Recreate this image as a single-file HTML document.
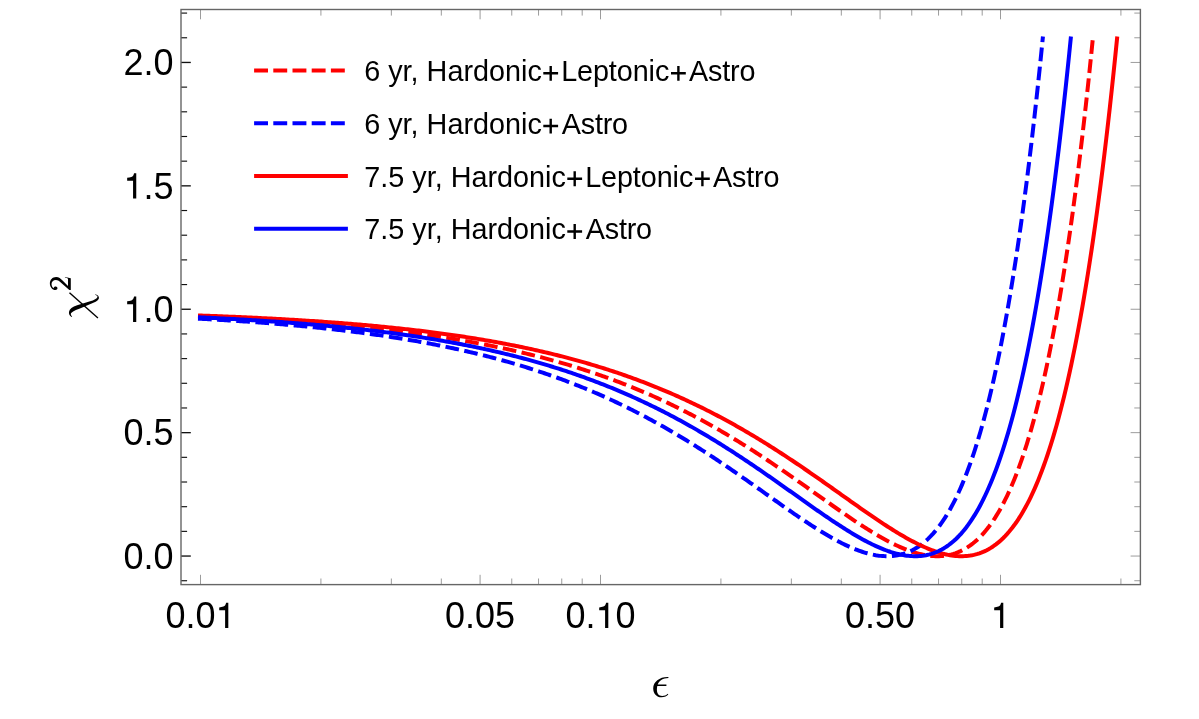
<!DOCTYPE html><html><head><meta charset="utf-8"><title>chi2</title>
<style>html,body{margin:0;padding:0;background:#fff;}body{width:1199px;height:719px;overflow:hidden;}svg{display:block;position:absolute;left:0;top:0;will-change:transform;}text{font-family:"Liberation Sans",sans-serif;fill:#000;}</style></head><body>
<svg width="1199" height="719" viewBox="0 0 1199 719">
<rect x="0" y="0" width="1199" height="719" fill="#fff"/>
<path d="M198.00,316.35 L199.79,316.42 L201.58,316.49 L203.37,316.57 L205.16,316.64 L206.95,316.72 L208.74,316.79 L210.53,316.87 L212.32,316.94 L214.11,317.02 L215.90,317.10 L217.69,317.18 L219.48,317.26 L221.27,317.34 L223.06,317.42 L224.85,317.50 L226.64,317.59 L228.43,317.67 L230.22,317.76 L232.01,317.84 L233.80,317.93 L235.59,318.02 L237.38,318.10 L239.17,318.19 L240.96,318.28 L242.75,318.37 L244.54,318.47 L246.33,318.56 L248.12,318.65 L249.91,318.75 L251.70,318.84 L253.49,318.94 L255.28,319.04 L257.07,319.14 L258.86,319.24 L260.65,319.34 L262.44,319.44 L264.23,319.54 L266.02,319.65 L267.81,319.75 L269.60,319.86 L271.39,319.97 L273.18,320.07 L274.97,320.18 L276.76,320.29 L278.55,320.41 L280.34,320.52 L282.13,320.63 L283.92,320.75 L285.71,320.86 L287.50,320.98 L289.29,321.10 L291.08,321.22 L292.87,321.34 L294.66,321.46 L296.45,321.58 L298.25,321.71 L300.04,321.84 L301.83,321.96 L303.62,322.09 L305.41,322.22 L307.20,322.35 L308.99,322.48 L310.78,322.62 L312.57,322.75 L314.36,322.89 L316.15,323.03 L317.94,323.17 L319.73,323.31 L321.52,323.45 L323.31,323.59 L325.10,323.74 L326.89,323.88 L328.68,324.03 L330.47,324.18 L332.26,324.33 L334.05,324.48 L335.84,324.64 L337.63,324.79 L339.42,324.95 L341.21,325.11 L343.00,325.27 L344.79,325.43 L346.58,325.59 L348.37,325.76 L350.16,325.92 L351.95,326.09 L353.74,326.26 L355.53,326.43 L357.32,326.61 L359.11,326.78 L360.90,326.96 L362.69,327.14 L364.48,327.32 L366.27,327.50 L368.06,327.68 L369.85,327.87 L371.64,328.05 L373.43,328.24 L375.22,328.44 L377.01,328.63 L378.80,328.82 L380.59,329.02 L382.38,329.22 L384.17,329.42 L385.96,329.62 L387.75,329.83 L389.54,330.04 L391.33,330.24 L393.12,330.46 L394.91,330.67 L396.70,330.88 L398.49,331.10 L400.28,331.32 L402.07,331.54 L403.86,331.77 L405.65,331.99 L407.44,332.22 L409.23,332.45 L411.02,332.68 L412.81,332.92 L414.60,333.16 L416.39,333.40 L418.18,333.64 L419.97,333.88 L421.76,334.13 L423.55,334.38 L425.34,334.63 L427.13,334.89 L428.92,335.14 L430.71,335.40 L432.50,335.66 L434.29,335.93 L436.08,336.19 L437.87,336.46 L439.66,336.74 L441.45,337.01 L443.24,337.29 L445.03,337.57 L446.82,337.85 L448.61,338.14 L450.40,338.43 L452.19,338.72 L453.98,339.01 L455.77,339.31 L457.56,339.61 L459.35,339.91 L461.14,340.21 L462.93,340.52 L464.72,340.83 L466.51,341.15 L468.30,341.47 L470.09,341.79 L471.88,342.11 L473.67,342.44 L475.46,342.77 L477.25,343.10 L479.04,343.44 L480.83,343.78 L482.62,344.12 L484.41,344.46 L486.20,344.81 L487.99,345.17 L489.78,345.52 L491.57,345.88 L493.36,346.24 L495.15,346.61 L496.94,346.98 L498.74,347.35 L500.53,347.73 L502.32,348.11 L504.11,348.49 L505.90,348.88 L507.69,349.27 L509.48,349.66 L511.27,350.06 L513.06,350.46 L514.85,350.87 L516.64,351.28 L518.43,351.69 L520.22,352.11 L522.01,352.53 L523.80,352.96 L525.59,353.39 L527.38,353.82 L529.17,354.26 L530.96,354.70 L532.75,355.14 L534.54,355.59 L536.33,356.05 L538.12,356.50 L539.91,356.96 L541.70,357.43 L543.49,357.90 L545.28,358.38 L547.07,358.85 L548.86,359.34 L550.65,359.83 L552.44,360.32 L554.23,360.81 L556.02,361.32 L557.81,361.82 L559.60,362.33 L561.39,362.85 L563.18,363.37 L564.97,363.89 L566.76,364.42 L568.55,364.95 L570.34,365.49 L572.13,366.03 L573.92,366.58 L575.71,367.14 L577.50,367.69 L579.29,368.26 L581.08,368.82 L582.87,369.40 L584.66,369.97 L586.45,370.56 L588.24,371.15 L590.03,371.74 L591.82,372.34 L593.61,372.94 L595.40,373.55 L597.19,374.16 L598.98,374.78 L600.77,375.41 L602.56,376.04 L604.35,376.67 L606.14,377.31 L607.93,377.96 L609.72,378.61 L611.51,379.27 L613.30,379.93 L615.09,380.60 L616.88,381.27 L618.67,381.95 L620.46,382.64 L622.25,383.33 L624.04,384.03 L625.83,384.73 L627.62,385.44 L629.41,386.15 L631.20,386.88 L632.99,387.60 L634.78,388.33 L636.57,389.07 L638.36,389.82 L640.15,390.57 L641.94,391.32 L643.73,392.09 L645.52,392.85 L647.31,393.63 L649.10,394.41 L650.89,395.20 L652.68,395.99 L654.47,396.79 L656.26,397.59 L658.05,398.41 L659.84,399.22 L661.63,400.05 L663.42,400.88 L665.21,401.72 L667.00,402.56 L668.79,403.41 L670.58,404.27 L672.37,405.13 L674.16,406.00 L675.95,406.87 L677.74,407.76 L679.53,408.65 L681.32,409.54 L683.11,410.44 L684.90,411.35 L686.69,412.26 L688.48,413.19 L690.27,414.11 L692.06,415.05 L693.85,415.99 L695.64,416.94 L697.44,417.89 L699.23,418.85 L701.02,419.82 L702.81,420.79 L704.60,421.77 L706.39,422.76 L708.18,423.75 L709.97,424.75 L711.76,425.76 L713.55,426.77 L715.34,427.79 L717.13,428.81 L718.92,429.85 L720.71,430.89 L722.50,431.93 L724.29,432.98 L726.08,434.04 L727.87,435.10 L729.66,436.17 L731.45,437.25 L733.24,438.33 L735.03,439.42 L736.82,440.52 L738.61,441.62 L740.40,442.73 L742.19,443.84 L743.98,444.96 L745.77,446.08 L747.56,447.21 L749.35,448.35 L751.14,449.49 L752.93,450.64 L754.72,451.80 L756.51,452.95 L758.30,454.12 L760.09,455.29 L761.88,456.46 L763.67,457.65 L765.46,458.83 L767.25,460.02 L769.04,461.22 L770.83,462.42 L772.62,463.62 L774.41,464.83 L776.20,466.05 L777.99,467.26 L779.78,468.49 L781.57,469.71 L783.36,470.94 L785.15,472.18 L786.94,473.42 L788.73,474.66 L790.52,475.90 L792.31,477.15 L794.10,478.40 L795.89,479.65 L797.68,480.91 L799.47,482.17 L801.26,483.43 L803.05,484.69 L804.84,485.96 L806.63,487.23 L808.42,488.49 L810.21,489.76 L812.00,491.03 L813.79,492.30 L815.58,493.58 L817.37,494.85 L819.16,496.12 L820.95,497.39 L822.74,498.66 L824.53,499.93 L826.32,501.20 L828.11,502.47 L829.90,503.73 L831.69,504.99 L833.48,506.25 L835.27,507.51 L837.06,508.76 L838.85,510.01 L840.64,511.26 L842.43,512.50 L844.22,513.74 L846.01,514.97 L847.80,516.20 L849.59,517.42 L851.38,518.63 L853.17,519.84 L854.96,521.04 L856.75,522.23 L858.54,523.41 L860.33,524.59 L862.12,525.75 L863.91,526.90 L865.70,528.05 L867.49,529.18 L869.28,530.30 L871.07,531.41 L872.86,532.50 L874.65,533.58 L876.44,534.65 L878.23,535.70 L880.02,536.73 L881.81,537.75 L883.60,538.76 L885.39,539.74 L887.18,540.70 L888.97,541.65 L890.76,542.57 L892.55,543.48 L894.34,544.36 L896.13,545.22 L897.93,546.05 L899.72,546.86 L901.51,547.65 L903.30,548.40 L905.09,549.13 L906.88,549.83 L908.67,550.50 L910.46,551.14 L912.25,551.75 L914.04,552.32 L915.83,552.86 L917.62,553.37 L919.41,553.84 L921.20,554.27 L922.99,554.66 L924.78,555.01 L926.57,555.31 L928.36,555.58 L930.15,555.80 L931.94,555.97 L933.73,556.10 L935.52,556.17 L937.31,556.20 L939.10,556.17 L940.89,556.09 L942.68,555.96 L944.47,555.76 L946.26,555.51 L948.05,555.19 L949.84,554.82 L951.63,554.37 L953.42,553.87 L955.21,553.29 L957.00,552.64 L958.79,551.92 L960.58,551.12 L962.37,550.25 L964.16,549.30 L965.95,548.26 L967.74,547.14 L969.53,545.94 L971.32,544.65 L973.11,543.26 L974.90,541.78 L976.69,540.21 L978.48,538.53 L980.27,536.76 L982.06,534.88 L983.85,532.89 L985.64,530.79 L987.43,528.58 L989.22,526.25 L991.01,523.80 L992.80,521.22 L994.59,518.52 L996.38,515.69 L998.17,512.73 L999.96,509.63 L1001.75,506.39 L1003.54,503.01 L1005.33,499.47 L1007.12,495.79 L1008.91,491.95 L1010.70,487.95 L1012.49,483.79 L1014.28,479.45 L1016.07,474.95 L1017.86,470.27 L1019.65,465.40 L1021.44,460.35 L1023.23,455.11 L1025.02,449.67 L1026.81,444.04 L1028.60,438.19 L1030.39,432.14 L1032.18,425.86 L1033.97,419.37 L1035.76,412.65 L1037.55,405.69 L1039.34,398.50 L1041.13,391.06 L1042.92,383.37 L1044.71,375.42 L1046.50,367.21 L1048.29,358.72 L1050.08,349.96 L1051.87,340.92 L1053.66,331.59 L1055.45,321.96 L1057.24,312.02 L1059.03,301.77 L1060.82,291.20 L1062.61,280.30 L1064.40,269.07 L1066.19,257.49 L1067.98,245.57 L1069.77,233.27 L1071.56,220.62 L1073.35,207.58 L1075.14,194.15 L1076.93,180.33 L1078.72,166.10 L1080.51,151.46 L1082.30,136.39 L1084.09,120.88 L1085.88,104.93 L1087.67,88.52 L1089.46,71.65 L1091.25,54.29 L1093.04,36.45" fill="none" stroke="#f00" stroke-width="4.00" stroke-dasharray="13.72 5.46"/>
<path d="M198.00,318.65 L199.69,318.74 L201.38,318.83 L203.07,318.92 L204.76,319.02 L206.45,319.11 L208.14,319.20 L209.83,319.30 L211.52,319.39 L213.21,319.49 L214.90,319.59 L216.59,319.69 L218.28,319.79 L219.97,319.89 L221.66,319.99 L223.35,320.09 L225.04,320.19 L226.73,320.30 L228.42,320.40 L230.11,320.51 L231.80,320.62 L233.49,320.72 L235.18,320.83 L236.87,320.94 L238.56,321.06 L240.25,321.17 L241.94,321.28 L243.63,321.40 L245.32,321.51 L247.01,321.63 L248.70,321.75 L250.39,321.87 L252.08,321.99 L253.77,322.11 L255.46,322.23 L257.15,322.35 L258.84,322.48 L260.53,322.61 L262.22,322.73 L263.91,322.86 L265.60,322.99 L267.29,323.12 L268.98,323.25 L270.67,323.39 L272.36,323.52 L274.05,323.66 L275.74,323.80 L277.43,323.93 L279.12,324.07 L280.81,324.22 L282.50,324.36 L284.19,324.50 L285.88,324.65 L287.56,324.79 L289.25,324.94 L290.94,325.09 L292.63,325.24 L294.32,325.39 L296.01,325.55 L297.70,325.70 L299.39,325.86 L301.08,326.02 L302.77,326.18 L304.46,326.34 L306.15,326.50 L307.84,326.67 L309.53,326.83 L311.22,327.00 L312.91,327.17 L314.60,327.34 L316.29,327.51 L317.98,327.68 L319.67,327.86 L321.36,328.04 L323.05,328.21 L324.74,328.39 L326.43,328.58 L328.12,328.76 L329.81,328.95 L331.50,329.13 L333.19,329.32 L334.88,329.51 L336.57,329.70 L338.26,329.90 L339.95,330.09 L341.64,330.29 L343.33,330.49 L345.02,330.69 L346.71,330.90 L348.40,331.10 L350.09,331.31 L351.78,331.52 L353.47,331.73 L355.16,331.94 L356.85,332.16 L358.54,332.37 L360.23,332.59 L361.92,332.81 L363.61,333.04 L365.30,333.26 L366.99,333.49 L368.68,333.72 L370.37,333.95 L372.06,334.18 L373.75,334.42 L375.44,334.66 L377.13,334.90 L378.82,335.14 L380.51,335.39 L382.20,335.63 L383.89,335.88 L385.58,336.13 L387.27,336.39 L388.96,336.64 L390.65,336.90 L392.34,337.16 L394.03,337.43 L395.72,337.69 L397.41,337.96 L399.10,338.23 L400.79,338.50 L402.48,338.78 L404.17,339.06 L405.86,339.34 L407.55,339.62 L409.24,339.91 L410.93,340.19 L412.62,340.48 L414.31,340.78 L416.00,341.07 L417.69,341.37 L419.38,341.67 L421.07,341.98 L422.76,342.29 L424.45,342.60 L426.14,342.91 L427.83,343.22 L429.52,343.54 L431.21,343.86 L432.90,344.19 L434.59,344.52 L436.28,344.85 L437.97,345.18 L439.66,345.51 L441.35,345.85 L443.04,346.19 L444.73,346.54 L446.42,346.89 L448.11,347.24 L449.80,347.59 L451.49,347.95 L453.18,348.31 L454.87,348.68 L456.56,349.04 L458.25,349.41 L459.94,349.79 L461.63,350.16 L463.32,350.54 L465.01,350.93 L466.69,351.31 L468.38,351.71 L470.07,352.10 L471.76,352.50 L473.45,352.90 L475.14,353.30 L476.83,353.71 L478.52,354.12 L480.21,354.54 L481.90,354.96 L483.59,355.38 L485.28,355.80 L486.97,356.23 L488.66,356.67 L490.35,357.10 L492.04,357.55 L493.73,357.99 L495.42,358.44 L497.11,358.89 L498.80,359.35 L500.49,359.81 L502.18,360.27 L503.87,360.74 L505.56,361.21 L507.25,361.69 L508.94,362.17 L510.63,362.66 L512.32,363.14 L514.01,363.64 L515.70,364.13 L517.39,364.63 L519.08,365.14 L520.77,365.65 L522.46,366.16 L524.15,366.68 L525.84,367.21 L527.53,367.73 L529.22,368.26 L530.91,368.80 L532.60,369.34 L534.29,369.88 L535.98,370.43 L537.67,370.99 L539.36,371.55 L541.05,372.11 L542.74,372.68 L544.43,373.25 L546.12,373.83 L547.81,374.41 L549.50,375.00 L551.19,375.59 L552.88,376.18 L554.57,376.78 L556.26,377.39 L557.95,378.00 L559.64,378.62 L561.33,379.24 L563.02,379.86 L564.71,380.49 L566.40,381.13 L568.09,381.77 L569.78,382.41 L571.47,383.06 L573.16,383.72 L574.85,384.38 L576.54,385.05 L578.23,385.72 L579.92,386.40 L581.61,387.08 L583.30,387.76 L584.99,388.46 L586.68,389.15 L588.37,389.86 L590.06,390.57 L591.75,391.28 L593.44,392.00 L595.13,392.72 L596.82,393.45 L598.51,394.19 L600.20,394.93 L601.89,395.68 L603.58,396.43 L605.27,397.19 L606.96,397.95 L608.65,398.72 L610.34,399.49 L612.03,400.27 L613.72,401.06 L615.41,401.85 L617.10,402.65 L618.79,403.45 L620.48,404.26 L622.17,405.07 L623.86,405.89 L625.55,406.72 L627.24,407.55 L628.93,408.39 L630.62,409.23 L632.31,410.08 L634.00,410.93 L635.69,411.80 L637.38,412.66 L639.07,413.53 L640.76,414.41 L642.45,415.30 L644.13,416.19 L645.82,417.08 L647.51,417.98 L649.20,418.89 L650.89,419.80 L652.58,420.72 L654.27,421.65 L655.96,422.58 L657.65,423.51 L659.34,424.45 L661.03,425.40 L662.72,426.36 L664.41,427.32 L666.10,428.28 L667.79,429.25 L669.48,430.23 L671.17,431.21 L672.86,432.20 L674.55,433.19 L676.24,434.19 L677.93,435.20 L679.62,436.21 L681.31,437.23 L683.00,438.25 L684.69,439.27 L686.38,440.31 L688.07,441.35 L689.76,442.39 L691.45,443.44 L693.14,444.49 L694.83,445.55 L696.52,446.62 L698.21,447.69 L699.90,448.76 L701.59,449.84 L703.28,450.93 L704.97,452.02 L706.66,453.11 L708.35,454.21 L710.04,455.32 L711.73,456.43 L713.42,457.54 L715.11,458.66 L716.80,459.78 L718.49,460.91 L720.18,462.04 L721.87,463.18 L723.56,464.32 L725.25,465.46 L726.94,466.61 L728.63,467.76 L730.32,468.92 L732.01,470.08 L733.70,471.24 L735.39,472.41 L737.08,473.58 L738.77,474.75 L740.46,475.92 L742.15,477.10 L743.84,478.28 L745.53,479.47 L747.22,480.65 L748.91,481.84 L750.60,483.03 L752.29,484.22 L753.98,485.42 L755.67,486.61 L757.36,487.81 L759.05,489.00 L760.74,490.20 L762.43,491.40 L764.12,492.60 L765.81,493.80 L767.50,495.00 L769.19,496.20 L770.88,497.40 L772.57,498.60 L774.26,499.80 L775.95,501.00 L777.64,502.20 L779.33,503.39 L781.02,504.58 L782.71,505.77 L784.40,506.96 L786.09,508.15 L787.78,509.33 L789.47,510.51 L791.16,511.68 L792.85,512.85 L794.54,514.02 L796.23,515.18 L797.92,516.34 L799.61,517.49 L801.30,518.64 L802.99,519.78 L804.68,520.91 L806.37,522.03 L808.06,523.15 L809.75,524.26 L811.44,525.36 L813.13,526.46 L814.82,527.54 L816.51,528.61 L818.20,529.68 L819.89,530.73 L821.58,531.77 L823.26,532.80 L824.95,533.82 L826.64,534.82 L828.33,535.81 L830.02,536.79 L831.71,537.75 L833.40,538.70 L835.09,539.63 L836.78,540.54 L838.47,541.43 L840.16,542.31 L841.85,543.17 L843.54,544.01 L845.23,544.83 L846.92,545.63 L848.61,546.41 L850.30,547.16 L851.99,547.89 L853.68,548.60 L855.37,549.28 L857.06,549.94 L858.75,550.57 L860.44,551.17 L862.13,551.74 L863.82,552.29 L865.51,552.80 L867.20,553.28 L868.89,553.73 L870.58,554.15 L872.27,554.53 L873.96,554.87 L875.65,555.18 L877.34,555.45 L879.03,555.68 L880.72,555.87 L882.41,556.02 L884.10,556.12 L885.79,556.18 L887.48,556.20 L889.17,556.17 L890.86,556.09 L892.55,555.96 L894.24,555.78 L895.93,555.54 L897.62,555.26 L899.31,554.91 L901.00,554.51 L902.69,554.05 L904.38,553.53 L906.07,552.95 L907.76,552.30 L909.45,551.59 L911.14,550.81 L912.83,549.96 L914.52,549.04 L916.21,548.05 L917.90,546.98 L919.59,545.83 L921.28,544.61 L922.97,543.30 L924.66,541.91 L926.35,540.43 L928.04,538.87 L929.73,537.21 L931.42,535.46 L933.11,533.62 L934.80,531.68 L936.49,529.64 L938.18,527.50 L939.87,525.25 L941.56,522.89 L943.25,520.42 L944.94,517.84 L946.63,515.14 L948.32,512.32 L950.01,509.38 L951.70,506.32 L953.39,503.12 L955.08,499.80 L956.77,496.34 L958.46,492.74 L960.15,489.00 L961.84,485.11 L963.53,481.08 L965.22,476.89 L966.91,472.54 L968.60,468.04 L970.29,463.37 L971.98,458.54 L973.67,453.53 L975.36,448.35 L977.05,442.98 L978.74,437.44 L980.43,431.70 L982.12,425.77 L983.81,419.64 L985.50,413.31 L987.19,406.77 L988.88,400.02 L990.57,393.05 L992.26,385.86 L993.95,378.45 L995.64,370.79 L997.33,362.91 L999.02,354.77 L1000.70,346.39 L1002.39,337.75 L1004.08,328.85 L1005.77,319.69 L1007.46,310.25 L1009.15,300.53 L1010.84,290.52 L1012.53,280.22 L1014.22,269.62 L1015.91,258.72 L1017.60,247.50 L1019.29,235.97 L1020.98,224.10 L1022.67,211.90 L1024.36,199.36 L1026.05,186.47 L1027.74,173.22 L1029.43,159.60 L1031.12,145.61 L1032.81,131.23 L1034.50,116.47 L1036.19,101.30 L1037.88,85.72 L1039.57,69.73 L1041.26,53.31 L1042.95,36.45" fill="none" stroke="#00f" stroke-width="4.00" stroke-dasharray="13.72 5.46"/>
<path d="M198.00,315.45 L199.84,315.52 L201.68,315.58 L203.52,315.65 L205.35,315.71 L207.19,315.78 L209.03,315.85 L210.87,315.91 L212.71,315.98 L214.55,316.05 L216.39,316.12 L218.22,316.19 L220.06,316.27 L221.90,316.34 L223.74,316.41 L225.58,316.49 L227.42,316.56 L229.26,316.64 L231.09,316.71 L232.93,316.79 L234.77,316.87 L236.61,316.95 L238.45,317.03 L240.29,317.11 L242.12,317.19 L243.96,317.27 L245.80,317.35 L247.64,317.44 L249.48,317.52 L251.32,317.61 L253.16,317.69 L254.99,317.78 L256.83,317.87 L258.67,317.96 L260.51,318.05 L262.35,318.14 L264.19,318.23 L266.03,318.33 L267.86,318.42 L269.70,318.52 L271.54,318.61 L273.38,318.71 L275.22,318.81 L277.06,318.91 L278.90,319.01 L280.73,319.11 L282.57,319.21 L284.41,319.31 L286.25,319.42 L288.09,319.52 L289.93,319.63 L291.77,319.74 L293.60,319.85 L295.44,319.96 L297.28,320.07 L299.12,320.18 L300.96,320.29 L302.80,320.41 L304.64,320.52 L306.47,320.64 L308.31,320.76 L310.15,320.88 L311.99,321.00 L313.83,321.12 L315.67,321.24 L317.51,321.37 L319.34,321.49 L321.18,321.62 L323.02,321.75 L324.86,321.88 L326.70,322.01 L328.54,322.14 L330.37,322.27 L332.21,322.41 L334.05,322.55 L335.89,322.68 L337.73,322.82 L339.57,322.96 L341.41,323.11 L343.24,323.25 L345.08,323.40 L346.92,323.54 L348.76,323.69 L350.60,323.84 L352.44,323.99 L354.28,324.14 L356.11,324.30 L357.95,324.45 L359.79,324.61 L361.63,324.77 L363.47,324.93 L365.31,325.10 L367.15,325.26 L368.98,325.43 L370.82,325.59 L372.66,325.76 L374.50,325.93 L376.34,326.11 L378.18,326.28 L380.02,326.46 L381.85,326.64 L383.69,326.82 L385.53,327.00 L387.37,327.18 L389.21,327.37 L391.05,327.55 L392.89,327.74 L394.72,327.94 L396.56,328.13 L398.40,328.32 L400.24,328.52 L402.08,328.72 L403.92,328.92 L405.75,329.12 L407.59,329.33 L409.43,329.54 L411.27,329.75 L413.11,329.96 L414.95,330.17 L416.79,330.39 L418.62,330.61 L420.46,330.83 L422.30,331.05 L424.14,331.28 L425.98,331.50 L427.82,331.73 L429.66,331.96 L431.49,332.20 L433.33,332.44 L435.17,332.67 L437.01,332.92 L438.85,333.16 L440.69,333.41 L442.53,333.66 L444.36,333.91 L446.20,334.16 L448.04,334.42 L449.88,334.68 L451.72,334.94 L453.56,335.20 L455.40,335.47 L457.23,335.74 L459.07,336.01 L460.91,336.29 L462.75,336.56 L464.59,336.84 L466.43,337.13 L468.27,337.41 L470.10,337.70 L471.94,337.99 L473.78,338.29 L475.62,338.59 L477.46,338.89 L479.30,339.19 L481.14,339.50 L482.97,339.81 L484.81,340.12 L486.65,340.44 L488.49,340.75 L490.33,341.08 L492.17,341.40 L494.00,341.73 L495.84,342.06 L497.68,342.40 L499.52,342.74 L501.36,343.08 L503.20,343.42 L505.04,343.77 L506.87,344.12 L508.71,344.48 L510.55,344.84 L512.39,345.20 L514.23,345.56 L516.07,345.93 L517.91,346.31 L519.74,346.68 L521.58,347.06 L523.42,347.45 L525.26,347.84 L527.10,348.23 L528.94,348.62 L530.78,349.02 L532.61,349.42 L534.45,349.83 L536.29,350.24 L538.13,350.66 L539.97,351.08 L541.81,351.50 L543.65,351.93 L545.48,352.36 L547.32,352.79 L549.16,353.23 L551.00,353.67 L552.84,354.12 L554.68,354.57 L556.52,355.03 L558.35,355.49 L560.19,355.95 L562.03,356.42 L563.87,356.90 L565.71,357.37 L567.55,357.86 L569.38,358.34 L571.22,358.84 L573.06,359.33 L574.90,359.83 L576.74,360.34 L578.58,360.85 L580.42,361.36 L582.25,361.88 L584.09,362.41 L585.93,362.94 L587.77,363.47 L589.61,364.01 L591.45,364.56 L593.29,365.11 L595.12,365.66 L596.96,366.22 L598.80,366.79 L600.64,367.35 L602.48,367.93 L604.32,368.51 L606.16,369.10 L607.99,369.69 L609.83,370.28 L611.67,370.88 L613.51,371.49 L615.35,372.10 L617.19,372.72 L619.03,373.34 L620.86,373.97 L622.70,374.61 L624.54,375.25 L626.38,375.89 L628.22,376.55 L630.06,377.20 L631.90,377.87 L633.73,378.53 L635.57,379.21 L637.41,379.89 L639.25,380.58 L641.09,381.27 L642.93,381.97 L644.77,382.67 L646.60,383.38 L648.44,384.10 L650.28,384.82 L652.12,385.55 L653.96,386.28 L655.80,387.02 L657.63,387.77 L659.47,388.53 L661.31,389.29 L663.15,390.05 L664.99,390.82 L666.83,391.60 L668.67,392.39 L670.50,393.18 L672.34,393.98 L674.18,394.78 L676.02,395.60 L677.86,396.41 L679.70,397.24 L681.54,398.07 L683.37,398.91 L685.21,399.75 L687.05,400.60 L688.89,401.46 L690.73,402.32 L692.57,403.20 L694.41,404.07 L696.24,404.96 L698.08,405.85 L699.92,406.75 L701.76,407.65 L703.60,408.57 L705.44,409.48 L707.28,410.41 L709.11,411.34 L710.95,412.28 L712.79,413.23 L714.63,414.18 L716.47,415.14 L718.31,416.11 L720.15,417.08 L721.98,418.06 L723.82,419.05 L725.66,420.05 L727.50,421.05 L729.34,422.06 L731.18,423.07 L733.01,424.09 L734.85,425.12 L736.69,426.16 L738.53,427.20 L740.37,428.25 L742.21,429.31 L744.05,430.37 L745.88,431.44 L747.72,432.52 L749.56,433.60 L751.40,434.69 L753.24,435.79 L755.08,436.89 L756.92,438.00 L758.75,439.12 L760.59,440.24 L762.43,441.37 L764.27,442.51 L766.11,443.65 L767.95,444.80 L769.79,445.95 L771.62,447.11 L773.46,448.28 L775.30,449.45 L777.14,450.63 L778.98,451.82 L780.82,453.01 L782.66,454.21 L784.49,455.41 L786.33,456.62 L788.17,457.83 L790.01,459.05 L791.85,460.27 L793.69,461.50 L795.53,462.73 L797.36,463.97 L799.20,465.22 L801.04,466.47 L802.88,467.72 L804.72,468.98 L806.56,470.24 L808.40,471.50 L810.23,472.77 L812.07,474.05 L813.91,475.32 L815.75,476.60 L817.59,477.89 L819.43,479.17 L821.26,480.46 L823.10,481.75 L824.94,483.05 L826.78,484.35 L828.62,485.64 L830.46,486.94 L832.30,488.25 L834.13,489.55 L835.97,490.85 L837.81,492.16 L839.65,493.47 L841.49,494.77 L843.33,496.08 L845.17,497.38 L847.00,498.69 L848.84,499.99 L850.68,501.29 L852.52,502.60 L854.36,503.89 L856.20,505.19 L858.04,506.48 L859.87,507.78 L861.71,509.06 L863.55,510.35 L865.39,511.62 L867.23,512.90 L869.07,514.17 L870.91,515.43 L872.74,516.69 L874.58,517.94 L876.42,519.18 L878.26,520.42 L880.10,521.65 L881.94,522.86 L883.78,524.07 L885.61,525.27 L887.45,526.46 L889.29,527.64 L891.13,528.81 L892.97,529.96 L894.81,531.10 L896.64,532.23 L898.48,533.34 L900.32,534.44 L902.16,535.53 L904.00,536.59 L905.84,537.64 L907.68,538.67 L909.51,539.68 L911.35,540.67 L913.19,541.64 L915.03,542.59 L916.87,543.52 L918.71,544.43 L920.55,545.30 L922.38,546.16 L924.22,546.99 L926.06,547.79 L927.90,548.56 L929.74,549.30 L931.58,550.01 L933.42,550.69 L935.25,551.34 L937.09,551.95 L938.93,552.53 L940.77,553.07 L942.61,553.57 L944.45,554.04 L946.29,554.46 L948.12,554.84 L949.96,555.18 L951.80,555.47 L953.64,555.71 L955.48,555.91 L957.32,556.06 L959.16,556.15 L960.99,556.20 L962.83,556.19 L964.67,556.12 L966.51,555.99 L968.35,555.80 L970.19,555.55 L972.02,555.24 L973.86,554.86 L975.70,554.41 L977.54,553.90 L979.38,553.31 L981.22,552.64 L983.06,551.90 L984.89,551.08 L986.73,550.18 L988.57,549.19 L990.41,548.12 L992.25,546.96 L994.09,545.71 L995.93,544.36 L997.76,542.91 L999.60,541.37 L1001.44,539.73 L1003.28,537.97 L1005.12,536.11 L1006.96,534.14 L1008.80,532.05 L1010.63,529.85 L1012.47,527.52 L1014.31,525.07 L1016.15,522.50 L1017.99,519.78 L1019.83,516.94 L1021.67,513.95 L1023.50,510.83 L1025.34,507.55 L1027.18,504.13 L1029.02,500.55 L1030.86,496.81 L1032.70,492.91 L1034.54,488.84 L1036.37,484.59 L1038.21,480.18 L1040.05,475.58 L1041.89,470.79 L1043.73,465.81 L1045.57,460.64 L1047.41,455.26 L1049.24,449.68 L1051.08,443.89 L1052.92,437.88 L1054.76,431.64 L1056.60,425.18 L1058.44,418.48 L1060.27,411.54 L1062.11,404.36 L1063.95,396.92 L1065.79,389.22 L1067.63,381.25 L1069.47,373.01 L1071.31,364.49 L1073.14,355.69 L1074.98,346.58 L1076.82,337.18 L1078.66,327.47 L1080.50,317.44 L1082.34,307.08 L1084.18,296.39 L1086.01,285.36 L1087.85,273.98 L1089.69,262.24 L1091.53,250.13 L1093.37,237.64 L1095.21,224.77 L1097.05,211.50 L1098.88,197.82 L1100.72,183.73 L1102.56,169.22 L1104.40,154.27 L1106.24,138.87 L1108.08,123.01 L1109.92,106.68 L1111.75,89.87 L1113.59,72.57 L1115.43,54.77 L1117.27,36.45" fill="none" stroke="#f00" stroke-width="4.00"/>
<path d="M198.00,317.29 L199.75,317.37 L201.49,317.44 L203.24,317.53 L204.98,317.61 L206.73,317.69 L208.48,317.77 L210.22,317.86 L211.97,317.94 L213.71,318.03 L215.46,318.11 L217.20,318.20 L218.95,318.29 L220.70,318.38 L222.44,318.47 L224.19,318.56 L225.93,318.65 L227.68,318.74 L229.43,318.83 L231.17,318.93 L232.92,319.02 L234.66,319.12 L236.41,319.22 L238.16,319.32 L239.90,319.42 L241.65,319.52 L243.39,319.62 L245.14,319.72 L246.89,319.82 L248.63,319.93 L250.38,320.03 L252.12,320.14 L253.87,320.24 L255.61,320.35 L257.36,320.46 L259.11,320.57 L260.85,320.68 L262.60,320.80 L264.34,320.91 L266.09,321.02 L267.84,321.14 L269.58,321.26 L271.33,321.38 L273.07,321.50 L274.82,321.62 L276.57,321.74 L278.31,321.86 L280.06,321.99 L281.80,322.11 L283.55,322.24 L285.30,322.37 L287.04,322.49 L288.79,322.63 L290.53,322.76 L292.28,322.89 L294.02,323.02 L295.77,323.16 L297.52,323.30 L299.26,323.44 L301.01,323.57 L302.75,323.72 L304.50,323.86 L306.25,324.00 L307.99,324.15 L309.74,324.29 L311.48,324.44 L313.23,324.59 L314.98,324.74 L316.72,324.90 L318.47,325.05 L320.21,325.20 L321.96,325.36 L323.71,325.52 L325.45,325.68 L327.20,325.84 L328.94,326.00 L330.69,326.17 L332.43,326.34 L334.18,326.50 L335.93,326.67 L337.67,326.84 L339.42,327.02 L341.16,327.19 L342.91,327.37 L344.66,327.55 L346.40,327.73 L348.15,327.91 L349.89,328.09 L351.64,328.28 L353.39,328.46 L355.13,328.65 L356.88,328.84 L358.62,329.03 L360.37,329.23 L362.11,329.42 L363.86,329.62 L365.61,329.82 L367.35,330.02 L369.10,330.23 L370.84,330.43 L372.59,330.64 L374.34,330.85 L376.08,331.06 L377.83,331.28 L379.57,331.49 L381.32,331.71 L383.07,331.93 L384.81,332.15 L386.56,332.38 L388.30,332.60 L390.05,332.83 L391.80,333.06 L393.54,333.30 L395.29,333.53 L397.03,333.77 L398.78,334.01 L400.52,334.25 L402.27,334.49 L404.02,334.74 L405.76,334.99 L407.51,335.24 L409.25,335.49 L411.00,335.75 L412.75,336.01 L414.49,336.27 L416.24,336.53 L417.98,336.80 L419.73,337.07 L421.48,337.34 L423.22,337.61 L424.97,337.89 L426.71,338.17 L428.46,338.45 L430.21,338.73 L431.95,339.02 L433.70,339.31 L435.44,339.60 L437.19,339.90 L438.93,340.20 L440.68,340.50 L442.43,340.80 L444.17,341.11 L445.92,341.41 L447.66,341.73 L449.41,342.04 L451.16,342.36 L452.90,342.68 L454.65,343.00 L456.39,343.33 L458.14,343.66 L459.89,343.99 L461.63,344.33 L463.38,344.67 L465.12,345.01 L466.87,345.36 L468.61,345.71 L470.36,346.06 L472.11,346.41 L473.85,346.77 L475.60,347.13 L477.34,347.50 L479.09,347.87 L480.84,348.24 L482.58,348.61 L484.33,348.99 L486.07,349.38 L487.82,349.76 L489.57,350.15 L491.31,350.54 L493.06,350.94 L494.80,351.34 L496.55,351.74 L498.30,352.15 L500.04,352.56 L501.79,352.98 L503.53,353.40 L505.28,353.82 L507.02,354.24 L508.77,354.67 L510.52,355.11 L512.26,355.55 L514.01,355.99 L515.75,356.43 L517.50,356.88 L519.25,357.34 L520.99,357.80 L522.74,358.26 L524.48,358.72 L526.23,359.19 L527.98,359.67 L529.72,360.15 L531.47,360.63 L533.21,361.12 L534.96,361.61 L536.71,362.10 L538.45,362.60 L540.20,363.11 L541.94,363.62 L543.69,364.13 L545.43,364.65 L547.18,365.17 L548.93,365.70 L550.67,366.23 L552.42,366.77 L554.16,367.31 L555.91,367.85 L557.66,368.40 L559.40,368.96 L561.15,369.52 L562.89,370.08 L564.64,370.65 L566.39,371.22 L568.13,371.80 L569.88,372.39 L571.62,372.98 L573.37,373.57 L575.12,374.17 L576.86,374.77 L578.61,375.38 L580.35,376.00 L582.10,376.62 L583.84,377.24 L585.59,377.87 L587.34,378.51 L589.08,379.15 L590.83,379.79 L592.57,380.44 L594.32,381.10 L596.07,381.76 L597.81,382.43 L599.56,383.10 L601.30,383.78 L603.05,384.46 L604.80,385.15 L606.54,385.84 L608.29,386.54 L610.03,387.25 L611.78,387.96 L613.52,388.68 L615.27,389.40 L617.02,390.13 L618.76,390.86 L620.51,391.60 L622.25,392.35 L624.00,393.10 L625.75,393.86 L627.49,394.62 L629.24,395.39 L630.98,396.16 L632.73,396.95 L634.48,397.73 L636.22,398.53 L637.97,399.32 L639.71,400.13 L641.46,400.94 L643.21,401.76 L644.95,402.58 L646.70,403.41 L648.44,404.24 L650.19,405.09 L651.93,405.93 L653.68,406.79 L655.43,407.65 L657.17,408.51 L658.92,409.38 L660.66,410.26 L662.41,411.15 L664.16,412.04 L665.90,412.93 L667.65,413.84 L669.39,414.75 L671.14,415.66 L672.89,416.58 L674.63,417.51 L676.38,418.45 L678.12,419.39 L679.87,420.33 L681.62,421.28 L683.36,422.24 L685.11,423.21 L686.85,424.18 L688.60,425.16 L690.34,426.14 L692.09,427.13 L693.84,428.13 L695.58,429.13 L697.33,430.14 L699.07,431.15 L700.82,432.17 L702.57,433.20 L704.31,434.23 L706.06,435.27 L707.80,436.32 L709.55,437.37 L711.30,438.43 L713.04,439.49 L714.79,440.56 L716.53,441.63 L718.28,442.71 L720.02,443.80 L721.77,444.89 L723.52,445.98 L725.26,447.09 L727.01,448.19 L728.75,449.31 L730.50,450.43 L732.25,451.55 L733.99,452.68 L735.74,453.82 L737.48,454.96 L739.23,456.10 L740.98,457.25 L742.72,458.40 L744.47,459.56 L746.21,460.73 L747.96,461.90 L749.71,463.07 L751.45,464.25 L753.20,465.43 L754.94,466.62 L756.69,467.81 L758.43,469.00 L760.18,470.20 L761.93,471.40 L763.67,472.60 L765.42,473.81 L767.16,475.02 L768.91,476.24 L770.66,477.46 L772.40,478.68 L774.15,479.90 L775.89,481.13 L777.64,482.36 L779.39,483.59 L781.13,484.82 L782.88,486.05 L784.62,487.29 L786.37,488.52 L788.12,489.76 L789.86,491.00 L791.61,492.24 L793.35,493.48 L795.10,494.72 L796.84,495.96 L798.59,497.20 L800.34,498.44 L802.08,499.68 L803.83,500.92 L805.57,502.15 L807.32,503.39 L809.07,504.62 L810.81,505.85 L812.56,507.07 L814.30,508.30 L816.05,509.52 L817.80,510.74 L819.54,511.95 L821.29,513.16 L823.03,514.36 L824.78,515.56 L826.53,516.76 L828.27,517.94 L830.02,519.12 L831.76,520.30 L833.51,521.46 L835.25,522.62 L837.00,523.77 L838.75,524.92 L840.49,526.05 L842.24,527.17 L843.98,528.28 L845.73,529.39 L847.48,530.48 L849.22,531.55 L850.97,532.62 L852.71,533.67 L854.46,534.71 L856.21,535.74 L857.95,536.75 L859.70,537.74 L861.44,538.72 L863.19,539.68 L864.93,540.62 L866.68,541.54 L868.43,542.45 L870.17,543.33 L871.92,544.20 L873.66,545.04 L875.41,545.86 L877.16,546.65 L878.90,547.42 L880.65,548.17 L882.39,548.89 L884.14,549.58 L885.89,550.25 L887.63,550.89 L889.38,551.49 L891.12,552.07 L892.87,552.61 L894.62,553.12 L896.36,553.59 L898.11,554.03 L899.85,554.44 L901.60,554.80 L903.34,555.13 L905.09,555.41 L906.84,555.65 L908.58,555.86 L910.33,556.01 L912.07,556.12 L913.82,556.18 L915.57,556.20 L917.31,556.16 L919.06,556.08 L920.80,555.93 L922.55,555.74 L924.30,555.49 L926.04,555.18 L927.79,554.81 L929.53,554.37 L931.28,553.88 L933.03,553.32 L934.77,552.69 L936.52,551.99 L938.26,551.23 L940.01,550.38 L941.75,549.47 L943.50,548.47 L945.25,547.40 L946.99,546.25 L948.74,545.01 L950.48,543.68 L952.23,542.27 L953.98,540.76 L955.72,539.17 L957.47,537.47 L959.21,535.68 L960.96,533.79 L962.71,531.79 L964.45,529.68 L966.20,527.47 L967.94,525.14 L969.69,522.70 L971.43,520.14 L973.18,517.46 L974.93,514.65 L976.67,511.71 L978.42,508.65 L980.16,505.45 L981.91,502.11 L983.66,498.63 L985.40,495.00 L987.15,491.22 L988.89,487.29 L990.64,483.21 L992.39,478.96 L994.13,474.55 L995.88,469.97 L997.62,465.22 L999.37,460.29 L1001.12,455.18 L1002.86,449.88 L1004.61,444.39 L1006.35,438.71 L1008.10,432.82 L1009.84,426.73 L1011.59,420.43 L1013.34,413.91 L1015.08,407.17 L1016.83,400.21 L1018.57,393.01 L1020.32,385.58 L1022.07,377.90 L1023.81,369.97 L1025.56,361.79 L1027.30,353.35 L1029.05,344.64 L1030.80,335.66 L1032.54,326.40 L1034.29,316.84 L1036.03,307.00 L1037.78,296.85 L1039.53,286.40 L1041.27,275.63 L1043.02,264.54 L1044.76,253.12 L1046.51,241.36 L1048.25,229.25 L1050.00,216.79 L1051.75,203.97 L1053.49,190.78 L1055.24,177.21 L1056.98,163.24 L1058.73,148.89 L1060.48,134.12 L1062.22,118.94 L1063.97,103.33 L1065.71,87.29 L1067.46,70.80 L1069.21,53.86 L1070.95,36.45" fill="none" stroke="#00f" stroke-width="4.00"/>
<path d="M200.50,584.60 V574.80" stroke="#666" stroke-width="0.65"/>
<path d="M200.50,9.50 V19.30" stroke="#666" stroke-width="0.65"/>
<path d="M480.09,584.60 V574.80" stroke="#666" stroke-width="0.65"/>
<path d="M480.09,9.50 V19.30" stroke="#666" stroke-width="0.65"/>
<path d="M600.50,584.60 V574.80" stroke="#666" stroke-width="0.65"/>
<path d="M600.50,9.50 V19.30" stroke="#666" stroke-width="0.65"/>
<path d="M880.09,584.60 V574.80" stroke="#666" stroke-width="0.65"/>
<path d="M880.09,9.50 V19.30" stroke="#666" stroke-width="0.65"/>
<path d="M1000.50,584.60 V574.80" stroke="#666" stroke-width="0.65"/>
<path d="M1000.50,9.50 V19.30" stroke="#666" stroke-width="0.65"/>
<path d="M320.91,584.60 V578.50" stroke="#666" stroke-width="0.65"/>
<path d="M320.91,9.50 V15.60" stroke="#666" stroke-width="0.65"/>
<path d="M391.35,584.60 V578.50" stroke="#666" stroke-width="0.65"/>
<path d="M391.35,9.50 V15.60" stroke="#666" stroke-width="0.65"/>
<path d="M441.32,584.60 V578.50" stroke="#666" stroke-width="0.65"/>
<path d="M441.32,9.50 V15.60" stroke="#666" stroke-width="0.65"/>
<path d="M511.76,584.60 V578.50" stroke="#666" stroke-width="0.65"/>
<path d="M511.76,9.50 V15.60" stroke="#666" stroke-width="0.65"/>
<path d="M538.54,584.60 V578.50" stroke="#666" stroke-width="0.65"/>
<path d="M538.54,9.50 V15.60" stroke="#666" stroke-width="0.65"/>
<path d="M561.74,584.60 V578.50" stroke="#666" stroke-width="0.65"/>
<path d="M561.74,9.50 V15.60" stroke="#666" stroke-width="0.65"/>
<path d="M582.20,584.60 V578.50" stroke="#666" stroke-width="0.65"/>
<path d="M582.20,9.50 V15.60" stroke="#666" stroke-width="0.65"/>
<path d="M720.91,584.60 V578.50" stroke="#666" stroke-width="0.65"/>
<path d="M720.91,9.50 V15.60" stroke="#666" stroke-width="0.65"/>
<path d="M791.35,584.60 V578.50" stroke="#666" stroke-width="0.65"/>
<path d="M791.35,9.50 V15.60" stroke="#666" stroke-width="0.65"/>
<path d="M841.32,584.60 V578.50" stroke="#666" stroke-width="0.65"/>
<path d="M841.32,9.50 V15.60" stroke="#666" stroke-width="0.65"/>
<path d="M911.76,584.60 V578.50" stroke="#666" stroke-width="0.65"/>
<path d="M911.76,9.50 V15.60" stroke="#666" stroke-width="0.65"/>
<path d="M938.54,584.60 V578.50" stroke="#666" stroke-width="0.65"/>
<path d="M938.54,9.50 V15.60" stroke="#666" stroke-width="0.65"/>
<path d="M961.74,584.60 V578.50" stroke="#666" stroke-width="0.65"/>
<path d="M961.74,9.50 V15.60" stroke="#666" stroke-width="0.65"/>
<path d="M982.20,584.60 V578.50" stroke="#666" stroke-width="0.65"/>
<path d="M982.20,9.50 V15.60" stroke="#666" stroke-width="0.65"/>
<path d="M1120.91,584.60 V578.50" stroke="#666" stroke-width="0.65"/>
<path d="M1120.91,9.50 V15.60" stroke="#666" stroke-width="0.65"/>
<path d="M181.00,580.73 H187.10" stroke="#111" stroke-width="1.15"/>
<path d="M1140.40,580.73 H1134.30" stroke="#666" stroke-width="0.65"/>
<path d="M181.00,556.05 H190.80" stroke="#111" stroke-width="1.35"/>
<path d="M1140.40,556.05 H1130.60" stroke="#666" stroke-width="0.65"/>
<path d="M181.00,531.37 H187.10" stroke="#111" stroke-width="1.15"/>
<path d="M1140.40,531.37 H1134.30" stroke="#666" stroke-width="0.65"/>
<path d="M181.00,506.69 H187.10" stroke="#111" stroke-width="1.15"/>
<path d="M1140.40,506.69 H1134.30" stroke="#666" stroke-width="0.65"/>
<path d="M181.00,482.01 H187.10" stroke="#111" stroke-width="1.15"/>
<path d="M1140.40,482.01 H1134.30" stroke="#666" stroke-width="0.65"/>
<path d="M181.00,457.33 H187.10" stroke="#111" stroke-width="1.15"/>
<path d="M1140.40,457.33 H1134.30" stroke="#666" stroke-width="0.65"/>
<path d="M181.00,432.65 H190.80" stroke="#111" stroke-width="1.35"/>
<path d="M1140.40,432.65 H1130.60" stroke="#666" stroke-width="0.65"/>
<path d="M181.00,407.97 H187.10" stroke="#111" stroke-width="1.15"/>
<path d="M1140.40,407.97 H1134.30" stroke="#666" stroke-width="0.65"/>
<path d="M181.00,383.29 H187.10" stroke="#111" stroke-width="1.15"/>
<path d="M1140.40,383.29 H1134.30" stroke="#666" stroke-width="0.65"/>
<path d="M181.00,358.61 H187.10" stroke="#111" stroke-width="1.15"/>
<path d="M1140.40,358.61 H1134.30" stroke="#666" stroke-width="0.65"/>
<path d="M181.00,333.93 H187.10" stroke="#111" stroke-width="1.15"/>
<path d="M1140.40,333.93 H1134.30" stroke="#666" stroke-width="0.65"/>
<path d="M181.00,309.25 H190.80" stroke="#111" stroke-width="1.35"/>
<path d="M1140.40,309.25 H1130.60" stroke="#666" stroke-width="0.65"/>
<path d="M181.00,284.57 H187.10" stroke="#111" stroke-width="1.15"/>
<path d="M1140.40,284.57 H1134.30" stroke="#666" stroke-width="0.65"/>
<path d="M181.00,259.89 H187.10" stroke="#111" stroke-width="1.15"/>
<path d="M1140.40,259.89 H1134.30" stroke="#666" stroke-width="0.65"/>
<path d="M181.00,235.21 H187.10" stroke="#111" stroke-width="1.15"/>
<path d="M1140.40,235.21 H1134.30" stroke="#666" stroke-width="0.65"/>
<path d="M181.00,210.53 H187.10" stroke="#111" stroke-width="1.15"/>
<path d="M1140.40,210.53 H1134.30" stroke="#666" stroke-width="0.65"/>
<path d="M181.00,185.85 H190.80" stroke="#111" stroke-width="1.35"/>
<path d="M1140.40,185.85 H1130.60" stroke="#666" stroke-width="0.65"/>
<path d="M181.00,161.17 H187.10" stroke="#111" stroke-width="1.15"/>
<path d="M1140.40,161.17 H1134.30" stroke="#666" stroke-width="0.65"/>
<path d="M181.00,136.49 H187.10" stroke="#111" stroke-width="1.15"/>
<path d="M1140.40,136.49 H1134.30" stroke="#666" stroke-width="0.65"/>
<path d="M181.00,111.81 H187.10" stroke="#111" stroke-width="1.15"/>
<path d="M1140.40,111.81 H1134.30" stroke="#666" stroke-width="0.65"/>
<path d="M181.00,87.13 H187.10" stroke="#111" stroke-width="1.15"/>
<path d="M1140.40,87.13 H1134.30" stroke="#666" stroke-width="0.65"/>
<path d="M181.00,62.45 H190.80" stroke="#111" stroke-width="1.35"/>
<path d="M1140.40,62.45 H1130.60" stroke="#666" stroke-width="0.65"/>
<path d="M181.00,37.77 H187.10" stroke="#111" stroke-width="1.15"/>
<path d="M1140.40,37.77 H1134.30" stroke="#666" stroke-width="0.65"/>
<path d="M181.00,13.09 H187.10" stroke="#111" stroke-width="1.15"/>
<path d="M1140.40,13.09 H1134.30" stroke="#666" stroke-width="0.65"/>
<rect x="181.00" y="9.50" width="959.40" height="575.10" fill="none" stroke="#666" stroke-width="1.4"/>
<text x="165.47" y="628.10" font-size="36">0.0</text>
<path d="M12.8,0 V-25.4 H10.6 C10.2,-23.4 9.5,-22.1 7.9,-21.5 C6.7,-21.0 5.2,-20.8 3.7,-20.7 V-17.8 H9.6 V0 Z" transform="translate(215.51,628.10)" fill="#000"/>
<text x="445.06" y="628.10" font-size="36">0.05</text>
<text x="565.47" y="628.10" font-size="36">0.</text>
<path d="M12.8,0 V-25.4 H10.6 C10.2,-23.4 9.5,-22.1 7.9,-21.5 C6.7,-21.0 5.2,-20.8 3.7,-20.7 V-17.8 H9.6 V0 Z" transform="translate(595.50,628.10)" fill="#000"/>
<text x="615.51" y="628.10" font-size="36">0</text>
<text x="845.06" y="628.10" font-size="36">0.50</text>
<path d="M12.8,0 V-25.4 H10.6 C10.2,-23.4 9.5,-22.1 7.9,-21.5 C6.7,-21.0 5.2,-20.8 3.7,-20.7 V-17.8 H9.6 V0 Z" transform="translate(990.49,628.10)" fill="#000"/>
<text x="123.46" y="568.75" font-size="36">0.0</text>
<text x="123.46" y="445.35" font-size="36">0.5</text>
<path d="M12.8,0 V-25.4 H10.6 C10.2,-23.4 9.5,-22.1 7.9,-21.5 C6.7,-21.0 5.2,-20.8 3.7,-20.7 V-17.8 H9.6 V0 Z" transform="translate(123.46,321.95)" fill="#000"/>
<text x="143.48" y="321.95" font-size="36">.0</text>
<path d="M12.8,0 V-25.4 H10.6 C10.2,-23.4 9.5,-22.1 7.9,-21.5 C6.7,-21.0 5.2,-20.8 3.7,-20.7 V-17.8 H9.6 V0 Z" transform="translate(123.46,198.55)" fill="#000"/>
<text x="143.48" y="198.55" font-size="36">.5</text>
<text x="123.46" y="75.15" font-size="36">2.0</text>
<path d="M254.1,70.60 H347.9" stroke="#f00" stroke-width="4" stroke-dasharray="13.9 5.3"/>
<text transform="translate(364.20,81.10) scale(1,1.035)" font-size="28.8">6 yr, Hardonic</text>
<path d="M549.50,65.90 h2.40 v6.20 h6.20 v2.40 h-6.20 v6.20 h-2.40 v-6.20 h-6.20 v-2.40 h6.20 Z" fill="#000"/>
<text transform="translate(561.13,81.10) scale(1,1.035)" font-size="28.8" letter-spacing="-0.10">Leptonic</text>
<path d="M677.20,65.90 h2.40 v6.20 h6.20 v2.40 h-6.20 v6.20 h-2.40 v-6.20 h-6.20 v-2.40 h6.20 Z" fill="#000"/>
<text transform="translate(689.01,81.10) scale(1,1.035)" font-size="28.8" letter-spacing="-0.20">Astro</text>
<path d="M254.1,123.33 H347.9" stroke="#00f" stroke-width="4" stroke-dasharray="13.9 5.3"/>
<text transform="translate(364.20,133.83) scale(1,1.035)" font-size="28.8">6 yr, Hardonic</text>
<path d="M549.50,118.63 h2.40 v6.20 h6.20 v2.40 h-6.20 v6.20 h-2.40 v-6.20 h-6.20 v-2.40 h6.20 Z" fill="#000"/>
<text transform="translate(561.71,133.83) scale(1,1.035)" font-size="28.8" letter-spacing="-0.20">Astro</text>
<path d="M254.1,176.06 H347.9" stroke="#f00" stroke-width="4"/>
<text transform="translate(364.22,186.56) scale(1,1.035)" font-size="28.8">7.5 yr, Hardonic</text>
<path d="M573.50,171.36 h2.40 v6.20 h6.20 v2.40 h-6.20 v6.20 h-2.40 v-6.20 h-6.20 v-2.40 h6.20 Z" fill="#000"/>
<text transform="translate(585.13,186.56) scale(1,1.035)" font-size="28.8" letter-spacing="-0.10">Leptonic</text>
<path d="M701.20,171.36 h2.40 v6.20 h6.20 v2.40 h-6.20 v6.20 h-2.40 v-6.20 h-6.20 v-2.40 h6.20 Z" fill="#000"/>
<text transform="translate(713.01,186.56) scale(1,1.035)" font-size="28.8" letter-spacing="-0.20">Astro</text>
<path d="M254.1,228.79 H347.9" stroke="#00f" stroke-width="4"/>
<text transform="translate(364.22,239.29) scale(1,1.035)" font-size="28.8">7.5 yr, Hardonic</text>
<path d="M573.50,224.09 h2.40 v6.20 h6.20 v2.40 h-6.20 v6.20 h-2.40 v-6.20 h-6.20 v-2.40 h6.20 Z" fill="#000"/>
<text transform="translate(585.71,239.29) scale(1,1.035)" font-size="28.8" letter-spacing="-0.20">Astro</text>
<g transform="translate(45,270) scale(0.07651)"><path d="M320,298 L692,627" stroke="#000" stroke-width="18" fill="none"/><path d="M660,316 C690,325 708,345 705,370 C700,395 670,412 640,425 L480,492 C425,512 375,532 350,556 C330,568 335,592 355,608 L348,614 C322,598 308,572 314,545 C320,508 358,482 420,462 L590,410 C640,392 680,375 686,352 C688,338 675,328 656,322 Z" fill="#000"/></g><g transform="translate(45,270) scale(0.03476)"><path d="M575,203 L742,238 L742,572 L700,578 L470,375 C415,320 370,285 312,285 C235,285 188,340 188,400 C188,455 212,500 248,522 C252,495 275,478 308,478 C338,478 358,500 358,527 C358,555 335,575 300,575 C210,575 140,485 140,385 C140,280 212,198 320,198 C400,198 452,245 505,300 L662,462 L662,262 C655,235 622,222 572,216 Z" fill="#000"/></g>
<path id="eps" d="M668.4,676.9 C660,676.5 653.2,681.5 653.2,688.2 C653.2,693.5 656.5,697.3 661.5,697.3 C664.5,697.3 667,696 668.3,694.5 L667.7,693.7 C666.3,695 664.3,696 662.2,696 C658.6,696 656.9,693.3 656.9,689.8 C656.9,688.5 657.0,687.2 657.3,686.0 L666.4,686.0 L666.4,684.6 L657.7,684.6 C659.3,680.6 663,678.2 668.4,678.1 Z" fill="#000"/>
</svg></body></html>
